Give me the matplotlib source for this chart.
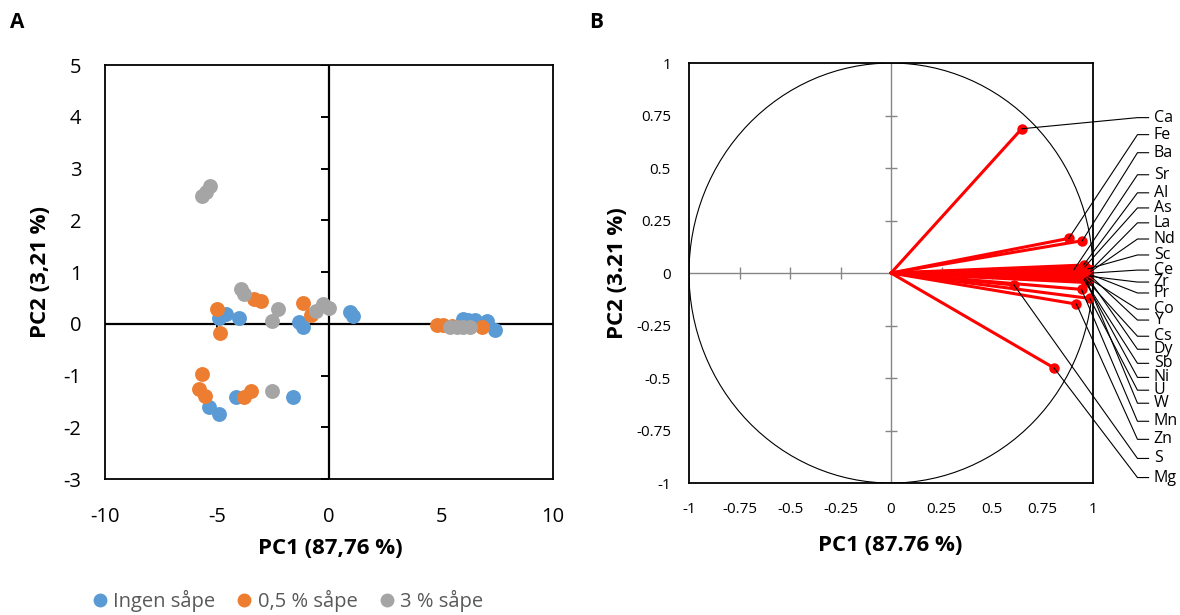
import numpy as np
import matplotlib
matplotlib.use("Agg")
import matplotlib.pyplot as plt
from matplotlib.lines import Line2D
from matplotlib.patches import Circle

plt.rcParams["font.family"] = ["Open Sans", "DejaVu Sans"]
plt.rcParams["axes.unicode_minus"] = False

# Scores (panel A), one pair of arrays per soap level
ingen_x = [-4.62, -4.02, -4.92, -1.33, -1.18, 0.92, 1.07, -5.37, -4.92, -4.17, -1.63,
           6.0, 6.2, 6.5, 7.05, 7.4]
ingen_y = [0.19, 0.12, 0.12, 0.03, -0.07, 0.22, 0.15, -1.61, -1.74, -1.42, -1.42,
           0.09, 0.08, 0.07, 0.05, -0.12]
halv_x = [-5.0, -4.85, -3.35, -3.05, -1.18, -0.8, -5.67, -5.82, -5.52, -3.8, -3.5,
          4.82, 5.1, 5.5, 6.84]
halv_y = [0.28, -0.17, 0.48, 0.44, 0.41, 0.17, -0.97, -1.26, -1.39, -1.42, -1.29,
          -0.03, -0.03, -0.04, -0.07]
tre_x = [-5.67, -5.5, -5.3, -3.95, -3.8, -2.3, -2.53, -0.58, -0.28, 0.02, -2.53,
         5.4, 5.7, 6.0, 6.3]
tre_y = [2.47, 2.55, 2.66, 0.67, 0.57, 0.28, 0.06, 0.25, 0.38, 0.31, -1.29,
         -0.06, -0.07, -0.07, -0.06]

# Loadings (panel B) with the height of each label
elements = ["Ca", "Fe", "Ba", "Sr", "Al", "As", "La", "Nd", "Sc", "Ce", "Zr", "Pr",
            "Co", "Y", "Cs", "Dy", "Sb", "Ni", "U", "W", "Mn", "Zn", "S", "Mg"]
load_x = [0.647, 0.88, 0.947, 0.905, 0.953, 0.96, 0.99, 0.99, 0.975, 0.995, 0.98, 0.99,
          0.97, 0.985, 0.96, 0.98, 0.955, 0.965, 0.984, 0.97, 0.943, 0.918, 0.609, 0.807]
load_y = [0.687, 0.165, 0.154, 0.015, 0.038, 0.03, 0.015, 0.008, 0.02, 0.0, -0.015, -0.008,
          -0.02, -0.012, -0.025, -0.03, -0.03, -0.045, -0.121, -0.04, -0.078, -0.148,
          -0.057, -0.452]
label_y = [0.74, 0.659, 0.573, 0.468, 0.382, 0.31, 0.239, 0.162, 0.086, 0.014, -0.043,
           -0.095, -0.172, -0.224, -0.301, -0.363, -0.43, -0.497, -0.558, -0.62, -0.706,
           -0.792, -0.883, -0.974]

BLUE, ORANGE, GRAY = "#5B9BD5", "#ED7D31", "#A5A5A5"

fig = plt.figure(figsize=(11.8, 6.15), dpi=100)
axA = fig.add_axes([0.089, 0.2211, 0.3797, 0.6732])
axB = fig.add_axes([0.5839, 0.2146, 0.3424, 0.6829])

# ---- Panel A: scores ----
axA.set_xlim(-10, 10)
axA.set_ylim(-3, 5)
axA.set_xticks([-10, -5, 0, 5, 10])
axA.set_yticks(range(-3, 6))
axA.tick_params(length=0, labelsize=14.5, pad=17)
axA.tick_params(axis="x", pad=20)
for sp in axA.spines.values():
    sp.set_linewidth(1.3)
axA.axhline(0, color="black", lw=1.6, zorder=1)
axA.axvline(0, color="black", lw=1.6, zorder=1)
axA.plot(np.zeros(9), range(-3, 6), ls="", marker=0, ms=6, mew=1.4, color="black", zorder=1)
axA.plot([-5, 5], [0, 0], ls="", marker=3, ms=5, mew=1.4, color="black", zorder=1)

ms = 115
axA.scatter(ingen_x, ingen_y, s=ms, color=BLUE, zorder=3, linewidths=0)
axA.scatter(halv_x, halv_y, s=ms, color=ORANGE, zorder=4, linewidths=0)
axA.scatter(tre_x, tre_y, s=ms, color=GRAY, zorder=5, linewidths=0)

axA.set_xlabel("PC1 (87,76 %)", fontsize=16, fontweight="bold", va="center")
axA.xaxis.set_label_coords(0.502, -0.169)
axA.set_ylabel("PC2 (3,21 %)", fontsize=16, fontweight="bold", va="center")
axA.yaxis.set_label_coords(-0.145, 0.5)

# ---- Panel B: loadings ----
axB.set_xlim(-1, 1)
axB.set_ylim(-1, 1)
ticks = [-1, -0.75, -0.5, -0.25, 0, 0.25, 0.5, 0.75, 1]
axB.set_xticks(ticks)
axB.set_yticks(ticks)
axB.set_xticklabels(["-1", "-0.75", "-0.5", "-0.25", "0", "0.25", "0.5", "0.75", "1"])
axB.set_yticklabels(["-1", "-0.75", "-0.5", "-0.25", "0", "0.25", "0.5", "0.75", "1"])
axB.tick_params(length=0, labelsize=11, pad=13)
axB.tick_params(axis="x", pad=14)
for sp in axB.spines.values():
    sp.set_linewidth(1.3)

axB.axhline(0, color="#868686", lw=1.0, zorder=1)
axB.axvline(0, color="#868686", lw=1.0, zorder=1)
inner = [-0.75, -0.5, -0.25, 0.25, 0.5, 0.75]
axB.plot(inner, np.zeros(6), ls="", marker="|", ms=8, mew=1.0, color="#868686", zorder=1)
axB.plot(np.zeros(6), inner, ls="", marker="_", ms=8, mew=1.0, color="#868686", zorder=1)
axB.add_patch(Circle((0, 0), 1, fill=False, lw=0.8, ec="black", zorder=2))

for lx, ly in zip(load_x, load_y):
    axB.plot([0, lx], [0, ly], color="red", lw=2.2, zorder=3, solid_capstyle="round")
axB.plot(load_x, load_y, ls="", marker="o", ms=6.5, color="red", zorder=4)

# leader lines to the element names
knee_x, end_x, text_x = 1.22, 1.275, 1.30
for name, lx, ly, ty in zip(elements, load_x, load_y, label_y):
    axB.plot([lx, knee_x, end_x], [ly, ty, ty], color="black", lw=0.8,
             zorder=5, clip_on=False)
    axB.text(text_x, ty, name, fontsize=11.5, va="center", ha="left", clip_on=False)

axB.set_xlabel("PC1 (87.76 %)", fontsize=16, fontweight="bold", va="center")
axB.xaxis.set_label_coords(0.4975, -0.148)
axB.set_ylabel("PC2 (3.21 %)", fontsize=16, fontweight="bold", va="center")
axB.yaxis.set_label_coords(-0.176, 0.5)

fig.text(10 / 1180, 1 - 22 / 615, "A", fontsize=15, fontweight="bold", va="center")
fig.text(589 / 1180, 1 - 22 / 615, "B", fontsize=15, fontweight="bold", va="center")

handles = [Line2D([], [], ls="", marker="o", ms=10, color=c, mew=0) for c in (BLUE, ORANGE, GRAY)]
leg = fig.legend(handles, ["Ingen såpe", "0,5 % såpe", "3 % såpe"], ncol=3,
                 loc="center left", bbox_to_anchor=(92 / 1180, 1 - 601 / 615),
                 frameon=False, fontsize=14.5, handlelength=0.8, handletextpad=0.25,
                 columnspacing=1.05, borderaxespad=0, borderpad=0)
for t in leg.get_texts():
    t.set_color("#595959")

fig.savefig("out.png", dpi=100)
